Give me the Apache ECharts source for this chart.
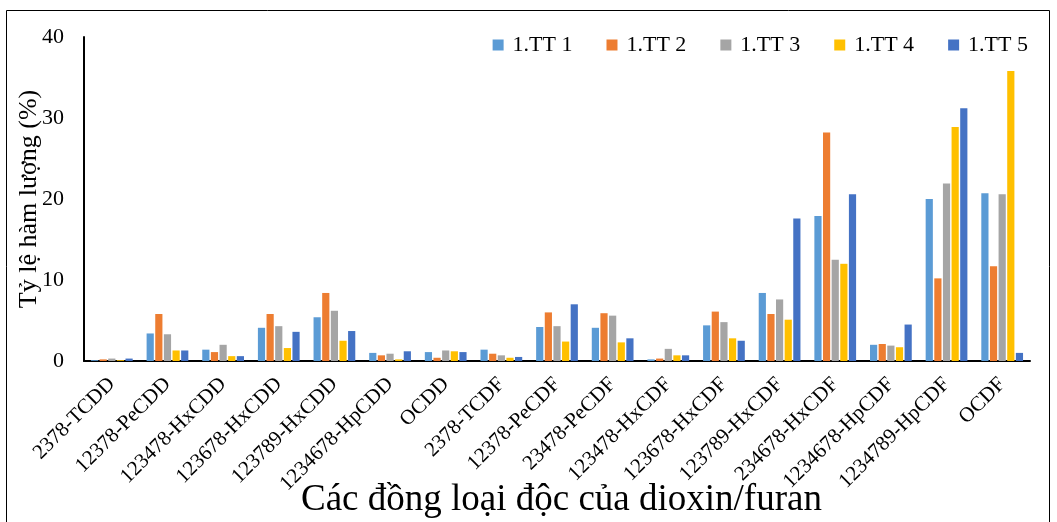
<!DOCTYPE html>
<html>
<head>
<meta charset="utf-8">
<script src="https://cdn.jsdelivr.net/npm/echarts@6/dist/echarts.min.js"></script>
<style>
  html, body { margin: 0; padding: 0; background: #fff; }
  #main { width: 1057px; height: 522px; }
</style>
</head>
<body>
<div id="main"></div>
<script>
const categories = ['2378-TCDD', '12378-PeCDD', '123478-HxCDD', '123678-HxCDD', '123789-HxCDD', '1234678-HpCDD', 'OCDD', '2378-TCDF', '12378-PeCDF', '23478-PeCDF', '123478-HxCDF', '123678-HxCDF', '123789-HxCDF', '234678-HxCDF', '1234678-HpCDF', '1234789-HpCDF', 'OCDF']
const tt1 = [0.1, 3.4, 1.4, 4.1, 5.4, 1.0, 1.1, 1.4, 4.2, 4.1, 0.2, 4.4, 8.4, 17.9, 2.0, 20.0, 20.7]
const tt2 = [0.2, 5.8, 1.1, 5.8, 8.4, 0.7, 0.4, 0.9, 6.0, 5.9, 0.3, 6.1, 5.8, 28.2, 2.1, 10.2, 11.7]
const tt3 = [0.3, 3.3, 2.0, 4.3, 6.2, 0.9, 1.3, 0.7, 4.3, 5.6, 1.5, 4.8, 7.6, 12.5, 1.9, 21.9, 20.6]
const tt4 = [0.1, 1.3, 0.6, 1.6, 2.5, 0.2, 1.2, 0.4, 2.4, 2.3, 0.7, 2.8, 5.1, 12.0, 1.7, 28.9, 35.8]
const tt5 = [0.3, 1.3, 0.6, 3.6, 3.7, 1.2, 1.1, 0.5, 7.0, 2.8, 0.7, 2.5, 17.6, 20.6, 4.5, 31.2, 1.0]
const seriesNames = ['1.TT 1', '1.TT 2', '1.TT 3', '1.TT 4', '1.TT 5']
const colors = ['#5B9BD5', '#ED7D31', '#A5A5A5', '#FFC000', '#4472C4']
const yTicks = [0, 10, 20, 30, 40]

const font = 'Liberation Serif, Times New Roman, serif'
const chart = echarts.init(document.getElementById('main'))
const dataList = [tt1, tt2, tt3, tt4, tt5]

const option = {
  animation: false,
  color: colors,
  textStyle: { fontFamily: font, color: '#000' },
  graphic: [
    { type: 'rect', shape: { x: 6.5, y: 10.5, width: 1043, height: 530 }, style: { fill: 'none', stroke: '#000', lineWidth: 1 } }
  ],
  title: {
    text: 'Các đồng loại độc của dioxin/furan',
    left: 296,
    top: 477,
    textStyle: { fontFamily: font, fontSize: 37, fontWeight: 'normal', color: '#000' }
  },
  legend: {
    data: seriesNames,
    right: 24,
    top: 29,
    icon: 'rect',
    itemWidth: 11,
    itemHeight: 11,
    itemGap: 34,
    textStyle: { fontFamily: font, fontSize: 22, color: '#000', padding: [0, 0, 0, 4] }
  },
  grid: { left: 84, right: 27, top: 37, bottom: 161, outerBoundsMode: 'none' },
  xAxis: {
    type: 'category',
    data: categories,
    axisLine: { lineStyle: { color: '#000', width: 2 } },
    axisTick: { show: false },
    axisLabel: { rotate: 45, interval: 0, fontFamily: font, fontSize: 21, color: '#000', margin: 20 }
  },
  yAxis: {
    type: 'value',
    min: yTicks[0],
    max: yTicks[yTicks.length - 1],
    interval: 10,
    name: 'Tỷ lệ hàm lượng (%)',
    nameLocation: 'middle',
    nameGap: 42,
    nameMoveOverlap: false,
    nameTextStyle: { fontFamily: font, fontSize: 26, color: '#000' },
    axisLine: { show: true, lineStyle: { color: '#000', width: 2 } },
    axisTick: { show: false },
    splitLine: { show: false },
    axisLabel: { fontFamily: font, fontSize: 22, color: '#000', margin: 20 }
  },
  series: seriesNames.map((name, i) => ({
    name: name,
    type: 'bar',
    data: dataList[i],
    barGap: '20%',
    barCategoryGap: '25%',
    itemStyle: { color: colors[i] }
  }))
}
chart.setOption(option)
</script>
</body>
</html>
